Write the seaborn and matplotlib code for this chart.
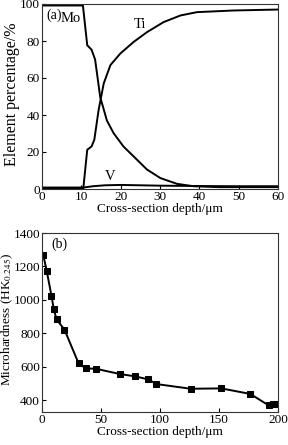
import matplotlib
matplotlib.use("Agg")
import matplotlib.pyplot as plt
import seaborn as sns
import pandas as pd

# ---- Panel (a) data: element percentage vs depth ----
mo_depth = [0, 5, 10.4, 11.5, 12.6, 13.5, 14.8, 16.5, 18.2, 20.7, 23.3, 26.7, 30.1, 34.3, 38.5, 45, 60]
mo_pct = [99.2, 99.2, 99.2, 77.7, 75.3, 70, 49.7, 37, 30.2, 23, 17.6, 10.5, 5.9, 2.8, 1.5, 1.0, 1.0]

ti_depth = [0, 5, 10.5, 11.5, 12.6, 13.3, 14.4, 15.7, 17.4, 19.9, 23.3, 26.7, 30.9, 35.2, 39.4, 48.8, 60]
ti_pct = [0.3, 0.3, 0.3, 21.2, 23, 26.6, 42.8, 57.1, 67, 73.2, 79.5, 84.8, 90.2, 93.8, 95.6, 96.5, 97]

v_depth = [0, 5, 10.5, 13, 16, 20, 25, 30, 40, 50, 60]
v_pct = [0.8, 0.8, 0.8, 1.5, 2.0, 2.2, 2.0, 1.8, 1.6, 1.5, 1.5]

# ---- Panel (b) data: microhardness vs depth ----
hv_depth = [1, 4, 8, 10, 12.4, 19, 31, 37, 46, 66, 79, 90, 97, 126, 152, 176.5, 192, 196, 200]
hv_value = [1271, 1173, 1026, 943, 883, 823, 621, 591, 588, 557, 543, 525, 497, 469, 471, 438, 370, 376, 375]

plt.rcParams['font.family'] = ['Liberation Serif', 'DejaVu Serif']
plt.rcParams['mathtext.fontset'] = 'stix'

W, H = 288, 445
fig = plt.figure(figsize=(W / 100, H / 100), dpi=100)
ax1 = fig.add_axes([42/W, 1-189/H, 236/W, 185/H])
ax2 = fig.add_axes([42/W, 1-412/H, 236/W, 179/H])

df_a = pd.concat([
    pd.DataFrame({'depth': mo_depth, 'pct': mo_pct, 'el': 'Mo'}),
    pd.DataFrame({'depth': ti_depth, 'pct': ti_pct, 'el': 'Ti'}),
    pd.DataFrame({'depth': v_depth, 'pct': v_pct, 'el': 'V'}),
])
sns.lineplot(data=df_a, x='depth', y='pct', units='el', estimator=None,
             color='black', lw=1.4, ax=ax1, sort=False)
ax1.set_xlim(0, 60)
ax1.set_ylim(0, 100)
ax1.set_xticks(range(0, 61, 10))
ax1.set_yticks(range(0, 101, 20))
ax1.set_xlabel('Cross-section depth/μm', fontsize=9.5, labelpad=0)
ax1.set_ylabel('')
fig.text(12/W, 1-94/H, 'Element percentage/%', fontsize=11.5, rotation=90,
         ha='center', va='center')
ax1.text(0.02, 0.975, '(a)', transform=ax1.transAxes, fontsize=10, va='top', ha='left')
ax1.text(0.08, 0.955, 'Mo', transform=ax1.transAxes, fontsize=10.5, va='top', ha='left')
ax1.text(23.2, 89, 'Ti', fontsize=10.5, ha='left', va='center')
ax1.text(16, 7, 'V', fontsize=10.5, ha='left', va='center')

df_b = pd.DataFrame({'depth': hv_depth, 'hv': hv_value})
sns.lineplot(data=df_b, x='depth', y='hv', color='black', lw=1.4, marker='s',
             markersize=4, markeredgecolor='black', ax=ax2, sort=False, clip_on=True)
ax2.set_xlim(0, 200)
ax2.set_ylim(330, 1400)
ax2.set_xticks(range(0, 201, 50))
ax2.set_yticks(range(400, 1401, 200))
ax2.set_xlabel('Cross-section depth/μm', fontsize=9.5, labelpad=0)
ax2.set_ylabel('')
fig.text(7.5/W, 1-319/H, 'Microhardness (HK$_{0.245}$)', fontsize=9.5, rotation=90,
         ha='center', va='center')
ax2.text(0.04, 0.975, '(b)', transform=ax2.transAxes, fontsize=10, va='top', ha='left')

for ax in (ax1, ax2):
    ax.tick_params(direction='in', length=3, width=0.8, labelsize=9.5, pad=1.5)
    for s in ax.spines.values():
        s.set_linewidth(0.8)
        s.set_color('#333333')

fig.savefig('out.png', dpi=100)
